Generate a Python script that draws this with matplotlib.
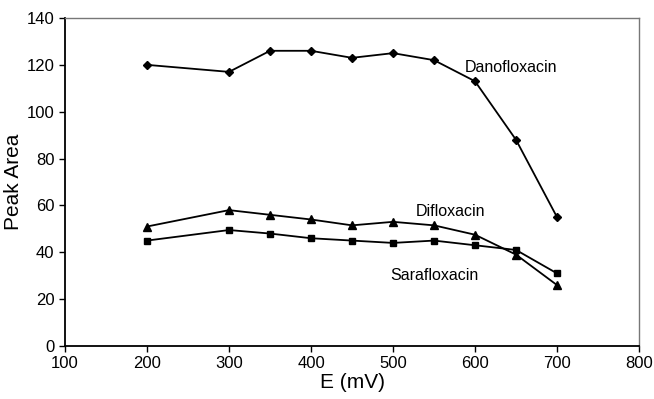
import matplotlib.pyplot as plt

plt.rcParams['font.family'] = ['Liberation Sans', 'DejaVu Sans']

voltage = [200, 300, 350, 400, 450, 500, 550, 600, 650, 700]
danofloxacin = [120, 117, 126, 126, 123, 125, 122, 113, 88, 55]
difloxacin = [51, 58, 56, 54, 51.5, 53, 51.5, 47.5, 39, 26]
sarafloxacin = [45, 49.5, 48, 46, 45, 44, 45, 43, 41, 31]

x_ticks = [100, 200, 300, 400, 500, 600, 700, 800]
y_ticks = [0, 20, 40, 60, 80, 100, 120, 140]

fig = plt.figure(figsize=(6.54, 3.99), dpi=100)
ax = fig.add_axes([0.0994, 0.1328, 0.8777, 0.8221])

ax.plot(voltage, danofloxacin, color='black', lw=1.3, marker='D', ms=4.5)
ax.plot(voltage, difloxacin, color='black', lw=1.3, marker='^', ms=6)
ax.plot(voltage, sarafloxacin, color='black', lw=1.3, marker='s', ms=5)

ax.text(588, 119, 'Danofloxacin', fontsize=11.5, va='center', ha='left')
ax.text(528, 57.6, 'Difloxacin', fontsize=11.5, va='center', ha='left')
ax.text(497, 29.9, 'Sarafloxacin', fontsize=11.5, va='center', ha='left')

ax.set_xlim(100, 800)
ax.set_ylim(0, 140)
ax.set_xticks(x_ticks)
ax.set_yticks(y_ticks)
ax.tick_params(direction='out', length=4, width=1, labelsize=12)
ax.set_xlabel('E (mV)', fontsize=15, labelpad=1)
ax.set_ylabel('Peak Area', fontsize=15, labelpad=3)

for side in ['left', 'bottom']:
    ax.spines[side].set_linewidth(1.3)
for side in ['top', 'right']:
    ax.spines[side].set_color('#777777')
    ax.spines[side].set_linewidth(1.0)

fig.savefig('out.png', dpi=100)
